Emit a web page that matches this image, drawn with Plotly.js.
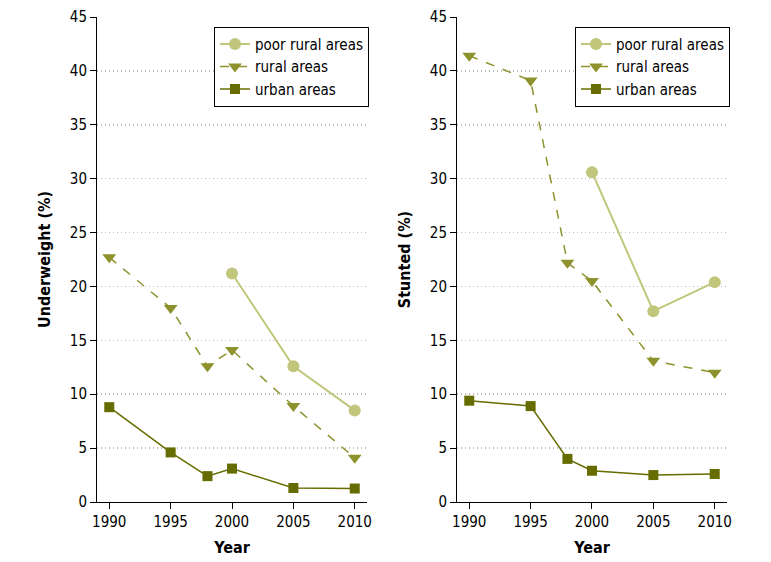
<!DOCTYPE html>
<html><head><meta charset="utf-8">
<script src="https://cdn.plot.ly/plotly-3.0.1.min.js"></script>
<style>body{margin:0;background:#fff}#c{width:771px;height:562px}</style>
</head><body><div id="c"></div>
<script>
const years = [1990, 1995, 1998, 2000, 2005, 2010];
const poorYears = [2000, 2005, 2010];
const uwRural = [22.7, 18.0, 12.6, 14.1, 8.9, 4.1];
const uwPoor = [21.2, 12.6, 8.5];
const uwUrban = [8.8, 4.6, 2.4, 3.1, 1.3, 1.25];
const stRural = [41.4, 39.1, 22.2, 20.5, 13.1, 12.0];
const stPoor = [30.6, 17.7, 20.4];
const stUrban = [9.4, 8.9, 4.0, 2.9, 2.5, 2.6];
const names = ['poor rural areas', 'rural areas', 'urban areas'];
const cPoor = '#c0c67c', cRural = '#8e922c', cUrban = '#676c00';
const FONT = '"Liberation Sans Narrow", "DejaVu Sans Condensed", Arial, sans-serif';

function traces(poor, rural, urban, xa, ya, lg) {
  return [
    {x: poorYears, y: poor, name: names[0], xaxis: xa, yaxis: ya, legend: lg, mode: 'lines+markers',
     line: {color: cPoor, width: 2}, marker: {symbol: 'circle', size: 12, color: cPoor}},
    {x: years, y: rural, name: names[1], xaxis: xa, yaxis: ya, legend: lg, mode: 'lines+markers',
     line: {color: cRural, width: 1.5, dash: 'dash'}, marker: {symbol: 'triangle-down', size: 12, color: cRural}},
    {x: years, y: urban, name: names[2], xaxis: xa, yaxis: ya, legend: lg, mode: 'lines+markers',
     line: {color: cUrban, width: 1.5}, marker: {symbol: 'square', size: 10, color: cUrban}}
  ];
}
const data = traces(uwPoor, uwRural, uwUrban, 'x', 'y', 'legend')
  .concat(traces(stPoor, stRural, stUrban, 'x2', 'y2', 'legend2'));

const xax = (dom, anchor) => ({domain: dom, anchor: anchor, range: [1989, 2011], tickvals: [1990, 1995, 2000, 2005, 2010],
  ticks: 'outside', ticklen: 6, tickcolor: '#000', showline: true, linecolor: '#000', linewidth: 1, showgrid: false, zeroline: false,
  tickfont: {size: 15, color: '#000'}, title: {text: '<b>Year</b>', font: {size: 16, color: '#000'}, standoff: 11}});
const yax = (title, anchor) => ({domain: [0, 1], anchor: anchor, range: [0, 45], dtick: 5, tick0: 0,
  ticks: 'outside', ticklen: 6, tickcolor: '#000', showline: true, linecolor: '#000', linewidth: 1,
  showgrid: true, gridcolor: '#bdbdbd', griddash: '1px,3px', gridwidth: 1.5, zeroline: false,
  tickfont: {size: 15, color: '#000'}, title: {text: '<b>' + title + '</b>', font: {size: 16, color: '#000'}, standoff: 15}});
const leg = (x) => ({x: x, y: 0.98, xanchor: 'left', yanchor: 'top', bgcolor: '#fff', bordercolor: '#000', borderwidth: 1,
  font: {size: 15, color: '#000', family: FONT}, tracegroupgap: 0, itemwidth: 30});

const layout = {
  width: 771, height: 562, margin: {l: 97, r: 44, t: 17, b: 60},
  paper_bgcolor: '#fff', plot_bgcolor: '#fff', font: {family: FONT, color: '#000'}, showlegend: true,
  xaxis: xax([0, 0.4286], 'y'), yaxis: yax('Underweight (%)', 'x'),
  xaxis2: xax([0.5714, 1], 'y2'), yaxis2: yax('Stunted (%)', 'x2'),
  legend: leg(0.1857), legend2: leg(0.7587)
};
Plotly.newPlot('c', data, layout, {displayModeBar: false, staticPlot: true});
</script></body></html>
